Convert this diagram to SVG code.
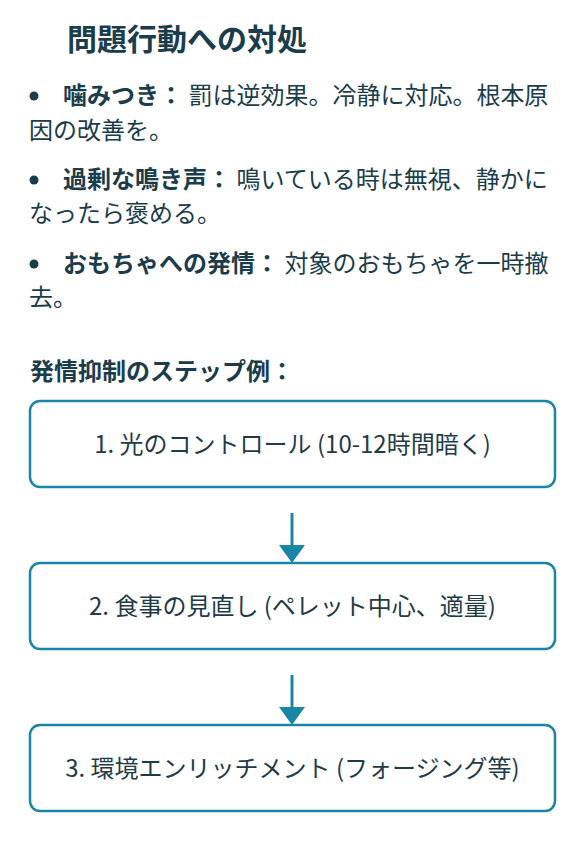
<svg xmlns="http://www.w3.org/2000/svg" width="587" height="856" viewBox="0 0 587 856">
<style>
text{font-family:"Noto Sans CJK JP","Noto Sans",sans-serif;fill:#1b3d4b}
.t{font-size:30px;font-weight:700}
.b{font-size:24px}
.bb{font-weight:700}
.h{font-size:24px;font-weight:700}
.box{fill:#fff;stroke:#1a86a6;stroke-width:2.5}
.lbl{font-size:24px;text-anchor:middle;fill:#1f3b48}
.ar{stroke:#1a86a6;stroke-width:3;fill:none}
.ah{fill:#1a86a6}
</style>
<rect width="587" height="856" fill="#fff"/>
<text class="t" x="67" y="50">問題行動への対処</text>
<g>
<circle cx="34" cy="96" r="4.5" fill="#1b3d4b"/>
<text class="b" x="63" y="104"><tspan class="bb">噛みつき：</tspan> 罰は逆効果。冷静に対応。根本原</text>
<text class="b" x="29" y="139">因の改善を。</text>
<circle cx="34" cy="180" r="4.5" fill="#1b3d4b"/>
<text class="b" x="63" y="188"><tspan class="bb">過剰な鳴き声：</tspan> 鳴いている時は無視、静かに</text>
<text class="b" x="29" y="222">なったら褒める。</text>
<circle cx="34" cy="264" r="4.5" fill="#1b3d4b"/>
<text class="b" x="63" y="272"><tspan class="bb">おもちゃへの発情：</tspan> 対象のおもちゃを一時撤</text>
<text class="b" x="29" y="306">去。</text>
</g>
<text class="h" x="30" y="380">発情抑制のステップ例：</text>
<g id="connectors">
<line class="ar" x1="292" y1="513" x2="292" y2="546"/>
<polygon class="ah" points="279,545 305,545 292,563"/>
<line class="ar" x1="292" y1="675" x2="292" y2="708"/>
<polygon class="ah" points="279,707 305,707 292,725"/>
</g>
<g id="step1">
<rect class="box" x="30" y="401" width="525" height="86" rx="10"/>
<text class="lbl" x="292.5" y="453">1. 光のコントロール (10-12時間暗く)</text>
</g>
<g id="step2">
<rect class="box" x="30" y="563" width="525" height="86" rx="10"/>
<text class="lbl" x="292.5" y="615">2. 食事の見直し (ペレット中心、適量)</text>
</g>
<g id="step3">
<rect class="box" x="30" y="725" width="525" height="86" rx="10"/>
<text class="lbl" x="292.5" y="777">3. 環境エンリッチメント (フォージング等)</text>
</g>
</svg>
